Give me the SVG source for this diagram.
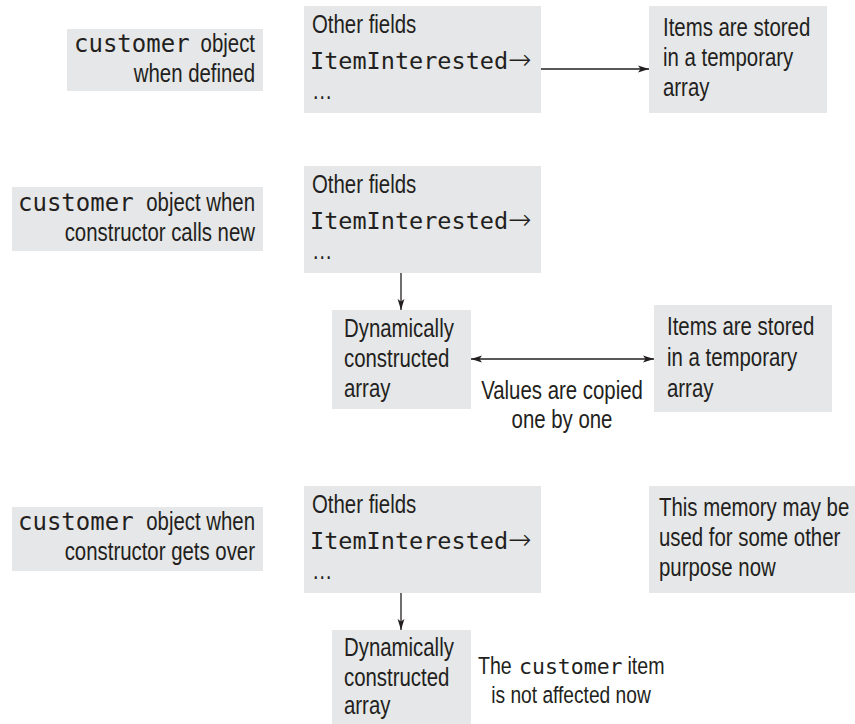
<svg xmlns="http://www.w3.org/2000/svg" width="855" height="724" viewBox="0 0 855 724">
<defs>
<style>
.box{fill:#e6e7e8;}
.s{font-family:"Liberation Sans",Arial,sans-serif;font-size:25px;fill:#231f20;}
.m{font-family:"DejaVu Sans Mono","Liberation Mono",monospace;font-size:24px;fill:#231f20;}
.f{font-size:23.5px;}
.ar{font-family:"DejaVu Sans",sans-serif;font-size:28px;font-weight:200;}
.e{text-anchor:end;}
.c{text-anchor:middle;}
.ln{stroke:#231f20;stroke-width:1.3;fill:none;}
</style>
<marker id="ah" markerUnits="userSpaceOnUse" markerWidth="11" markerHeight="8" refX="11" refY="4" orient="auto-start-reverse" viewBox="0 0 11 8">
<path d="M0,0.6 L11,4 L0,7.4 L2.5,4 z" fill="#231f20"/>
</marker>
</defs>
<rect width="855" height="724" fill="#ffffff"/>

<g id="label1">
<rect class="box" x="67" y="29" width="196" height="62"/>
<text class="m" x="74" y="52">customer</text>
<text class="s e" transform="translate(255 52) scale(0.816 1)">object</text>
<text class="s e" transform="translate(255 82) scale(0.816 1)">when defined</text>
</g>

<g id="obj1">
<rect class="box" x="304" y="6" width="237" height="107"/>
<text class="s" transform="translate(312 33) scale(0.816 1)">Other fields</text>
<text class="m f" x="310" y="69">ItemInterested<tspan class="ar">→</tspan></text>
<text class="s" transform="translate(312 99) scale(0.816 1)">…</text>
</g>

<g id="temp1">
<rect class="box" x="649" y="6" width="178" height="107"/>
<text class="s" transform="translate(663 36) scale(0.816 1)">Items are stored</text>
<text class="s" transform="translate(663 66) scale(0.816 1)">in a temporary</text>
<text class="s" transform="translate(663 96) scale(0.816 1)">array</text>
</g>

<g id="label2">
<rect class="box" x="12" y="187" width="251" height="64"/>
<text class="m" x="18" y="211">customer</text>
<text class="s e" transform="translate(255 211) scale(0.816 1)">object when</text>
<text class="s e" transform="translate(255 241) scale(0.816 1)">constructor calls new</text>
</g>

<g id="obj2">
<rect class="box" x="304" y="166" width="237" height="107"/>
<text class="s" transform="translate(312 193) scale(0.816 1)">Other fields</text>
<text class="m f" x="310" y="229">ItemInterested<tspan class="ar">→</tspan></text>
<text class="s" transform="translate(312 259) scale(0.816 1)">…</text>
</g>

<g id="dyn2">
<rect class="box" x="332" y="310" width="139" height="99"/>
<text class="s" transform="translate(344 337) scale(0.816 1)">Dynamically</text>
<text class="s" transform="translate(344 367) scale(0.816 1)">constructed</text>
<text class="s" transform="translate(344 397) scale(0.816 1)">array</text>
</g>

<g id="temp2">
<rect class="box" x="654" y="305" width="178" height="107"/>
<text class="s" transform="translate(667 335) scale(0.816 1)">Items are stored</text>
<text class="s" transform="translate(667 366) scale(0.816 1)">in a temporary</text>
<text class="s" transform="translate(667 397) scale(0.816 1)">array</text>
</g>

<g id="copyLabel">
<text class="s c" transform="translate(562 399) scale(0.816 1)">Values are copied</text>
<text class="s c" transform="translate(562 428) scale(0.816 1)">one by one</text>
</g>

<g id="label3">
<rect class="box" x="12" y="507" width="251" height="64"/>
<text class="m" x="18" y="530">customer</text>
<text class="s e" transform="translate(255 530) scale(0.816 1)">object when</text>
<text class="s e" transform="translate(255 560) scale(0.816 1)">constructor gets over</text>
</g>

<g id="obj3">
<rect class="box" x="304" y="486" width="237" height="107"/>
<text class="s" transform="translate(312 513) scale(0.816 1)">Other fields</text>
<text class="m f" x="310" y="549">ItemInterested<tspan class="ar">→</tspan></text>
<text class="s" transform="translate(312 579) scale(0.816 1)">…</text>
</g>

<g id="freed3">
<rect class="box" x="649" y="486" width="206" height="107"/>
<text class="s" transform="translate(659 516) scale(0.816 1)">This memory may be</text>
<text class="s" transform="translate(659 546) scale(0.816 1)">used for some other</text>
<text class="s" transform="translate(659 576) scale(0.816 1)">purpose now</text>
</g>

<g id="dyn3">
<rect class="box" x="332" y="630" width="139" height="94"/>
<text class="s" transform="translate(344 656) scale(0.816 1)">Dynamically</text>
<text class="s" transform="translate(344 686) scale(0.816 1)">constructed</text>
<text class="s" transform="translate(344 714) scale(0.816 1)">array</text>
</g>

<g id="noteLabel">
<text class="s" style="font-size:24px" transform="translate(478 674) scale(0.816 1)">The</text>
<text class="m" style="font-size:21.5px" x="519" y="674">customer</text>
<text class="s" style="font-size:24px" transform="translate(627.5 674) scale(0.816 1)">item</text>
<text class="s c" style="font-size:23.5px" transform="translate(571 703) scale(0.816 1)">is not affected now</text>
</g>

<g id="connectors">
<line class="ln" x1="541" y1="69" x2="649" y2="69" marker-end="url(#ah)"/>
<line class="ln" x1="401" y1="273" x2="401" y2="310" marker-end="url(#ah)"/>
<line class="ln" x1="471" y1="359" x2="654" y2="359" marker-start="url(#ah)" marker-end="url(#ah)"/>
<line class="ln" x1="401" y1="593" x2="401" y2="630" marker-end="url(#ah)"/>
</g>
</svg>
